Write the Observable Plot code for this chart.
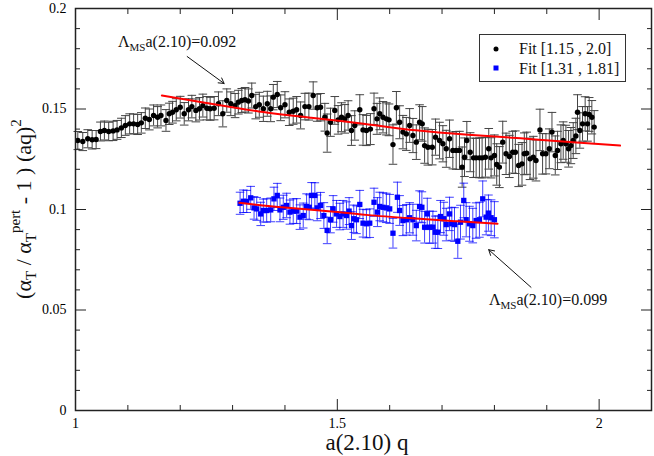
<!DOCTYPE html>
<html>
<head>
<meta charset="utf-8">
<script src="https://cdn.jsdelivr.net/npm/d3@7"></script>
<script src="https://cdn.jsdelivr.net/npm/@observablehq/plot@0.6"></script>
<style>
  html, body { margin: 0; padding: 0; background: white; }
  #chart { width: 654px; height: 456px; }
</style>
</head>
<body>
<div id="chart"></div>
<script>
// ---- data: fit [1.15, 2.0] (black dots) ----
const blackQ = [
  1.0044,1.0139,1.0234,1.0318,1.0394,1.0476,1.0552,1.0634,1.0718,1.0794,
  1.0876,1.0952,1.1034,1.1110,1.1187,1.1257,1.1333,1.1410,1.1491,1.1568,
  1.1632,1.1728,1.1790,1.1853,1.1924,1.2000,1.2076,1.2158,1.2222,1.2299,
  1.2368,1.2432,1.2509,1.2571,1.2648,1.2730,1.2813,1.2889,1.2966,1.3048,
  1.3110,1.3175,1.3238,1.3302,
  1.3366,1.3442,1.3510,1.3587,1.3663,1.3728,1.3777,1.3853,1.3918,1.4000,
  1.4082,1.4158,1.4223,1.4299,1.4381,1.4457,1.4539,1.4615,1.4680,1.4762,
  1.4806,1.4870,1.4952,1.5015,1.5080,1.5143,1.5206,1.5270,1.5333,1.5429,
  1.5491,1.5556,1.5632,1.5701,1.5758,1.5810,1.5872,1.5937,1.5987,1.6063,
  1.6128,1.6190,1.6253,1.6318,1.6381,1.6444,
  1.6508,1.6571,1.6622,1.6667,1.6730,1.6813,1.6876,1.6952,1.7016,1.7080,
  1.7143,1.7206,1.7270,1.7333,1.7384,1.7429,1.7473,1.7537,1.7600,1.7651,
  1.7714,1.7765,1.7829,1.7892,1.7937,1.8000,1.8044,1.8095,1.8159,1.8222,
  1.8286,1.8349,1.8400,1.8463,1.8527,1.8571,1.8616,1.8680,1.8743,1.8794,
  1.8870,1.8920,1.8984,1.9048,1.9099,1.9162,1.9206,1.9270,1.9314,1.9365,
  1.9416,1.9461,1.9505,1.9556,1.9587,1.9632,1.9683,1.9733,1.9778,1.9810,
  1.9861,1.9905
];
const blackVal = [
  .1343,.1338,.1352,.1347,.1348,.1388,.1393,.1388,.1391,.1396,
  .1406,.1418,.1426,.1426,.1423,.1431,.1454,.1448,.1468,.1459,
  .1468,.1443,.1476,.1484,.1496,.1509,.1476,.1496,.1512,.1493,
  .1501,.1517,.1504,.1501,.1504,.1526,.1476,.1542,.1526,.1517,
  .1534,.1542,.1546,.1540,
  .1567,.1512,.1521,.1501,.1526,.1501,.1559,.1572,.1506,.1521,
  .1484,.1489,.1496,.1468,.1512,.1512,.1567,.1506,.1509,.1459,
  .1380,.1434,.1493,.1446,.1459,.1451,.1468,.1393,.1418,.1496,
  .1396,.1393,.1400,.1501,.1451,.1476,.1459,.1451,.1446,.1323,
  .1506,.1434,.1385,.1376,.1418,.1368,
  .1335,.1434,.1426,.1318,.1310,.1310,.1360,.1343,.1327,.1302,
  .1352,.1294,.1294,.1294,.1211,.1260,.1343,.1285,.1257,.1257,
  .1257,.1257,.1260,.1302,.1257,.1269,.1224,.1211,.1335,.1277,
  .1264,.1285,.1285,.1219,.1227,.1277,.1280,.1252,.1260,.1244,
  .1396,.1277,.1277,.1302,.1385,.1269,.1294,.1327,.1343,.1327,
  .1302,.1318,.1343,.1366,.1484,.1393,.1426,.1476,.1426,.1473,
  .1459,.1410
];
const blackErr = [
  .0045,.0045,.0045,.0046,.0045,.0047,.0047,.0046,.0048,.0047,
  .0048,.0049,.0050,.0049,.0050,.0051,.0051,.0052,.0052,.0053,
  .0052,.0054,.0053,.0054,.0055,.0054,.0056,.0055,.0056,.0057,
  .0056,.0057,.0058,.0057,.0058,.0059,.0065,.0058,.0059,.0060,
  .0059,.0060,.0061,.0060,
  .0062,.0061,.0062,.0063,.0062,.0064,.0063,.0065,.0064,.0065,
  .0066,.0065,.0066,.0067,.0066,.0067,.0068,.0067,.0068,.0069,
  .0095,.0070,.0069,.0071,.0072,.0071,.0073,.0074,.0073,.0075,
  .0076,.0075,.0077,.0078,.0077,.0079,.0078,.0080,.0079,.0098,
  .0081,.0082,.0083,.0082,.0084,.0085,
  .0086,.0087,.0086,.0088,.0089,.0088,.0090,.0091,.0090,.0092,
  .0093,.0092,.0094,.0095,.0100,.0096,.0095,.0097,.0098,.0097,
  .0099,.0100,.0099,.0101,.0100,.0102,.0103,.0102,.0104,.0103,
  .0105,.0104,.0106,.0105,.0106,.0104,.0105,.0103,.0104,.0102,
  .0103,.0101,.0100,.0099,.0098,.0097,.0095,.0094,.0093,.0092,
  .0091,.0090,.0089,.0088,.0087,.0088,.0086,.0085,.0086,.0084,
  .0083,.0082
];

// ---- data: fit [1.31, 1.81] (blue squares) ----
const blueQ = [
  1.3143,1.3206,1.3270,1.3346,1.3410,1.3461,1.3537,1.3587,1.3651,1.3728,
  1.3790,1.3853,1.3905,1.3968,1.4032,1.4095,1.4158,1.4223,1.4286,1.4349,
  1.4413,1.4463,1.4509,1.4571,1.4615,1.4680,1.4743,1.4806,1.4870,1.4920,
  1.4985,1.5048,1.5110,1.5175,1.5225,1.5270,1.5314,1.5366,1.5429,1.5491,
  1.5556,
  1.5619,1.5701,1.5766,1.5810,1.5872,1.5937,1.6000,1.6063,1.6147,1.6190,
  1.6253,1.6318,1.6381,1.6444,1.6508,1.6571,1.6615,1.6667,1.6718,1.6762,
  1.6825,1.6870,1.6920,1.6971,1.7034,1.7080,1.7143,1.7187,1.7238,1.7301,
  1.7352,1.7415,1.7461,1.7524,1.7587,1.7651,1.7714,1.7777,1.7842,1.7886,
  1.7937,1.8000
];
const blueVal = [
  .1031,.1041,.1040,.1058,.1008,.1003,.0978,.0995,.0995,.0998,
  .1053,.1070,.0998,.1011,.1020,.0987,.0992,.0992,.0962,.0970,
  .1015,.1011,.1070,.1070,.1008,.1020,.0970,.0896,.0949,.1003,
  .0978,.0965,.0978,.0970,.0992,.0920,.0954,.0949,.1025,.0932,
  .0929,
  .0932,.1036,.0987,.1015,.1011,.1008,.1003,.0882,.1061,.0995,
  .0945,.0949,.0959,.0949,.0920,.1015,.1011,.0912,.0978,.0912,
  .0912,.0887,.0887,.0965,.0954,.0925,.0978,.0929,.0925,.0842,
  .0937,.1045,.0949,.0929,.0920,.0945,.0949,.1053,.0962,.0982,
  .0959,.0949
];
const blueErr = [
  .0055,.0056,.0055,.0057,.0056,.0057,.0058,.0057,.0058,.0059,
  .0058,.0060,.0059,.0060,.0061,.0060,.0061,.0062,.0061,.0062,
  .0063,.0062,.0064,.0063,.0064,.0065,.0064,.0066,.0065,.0066,
  .0067,.0066,.0067,.0068,.0067,.0069,.0068,.0069,.0070,.0069,
  .0070,
  .0071,.0070,.0072,.0071,.0072,.0073,.0072,.0074,.0075,.0074,
  .0075,.0076,.0075,.0077,.0076,.0078,.0077,.0079,.0078,.0080,
  .0079,.0080,.0081,.0080,.0082,.0081,.0083,.0082,.0084,.0085,
  .0084,.0086,.0085,.0087,.0086,.0088,.0087,.0089,.0088,.0090,
  .0089,.0090
];

// ---- fit curves (red) ----
const fitBlackQ = [1.165, 1.25, 1.35, 1.45, 1.55, 1.65, 1.75, 1.85, 1.95, 2.04];
const fitBlackVal = [0.1567, 0.1530, 0.1488, 0.1457, 0.1427, 0.1394, 0.1372, 0.1354, 0.1335, 0.1318];
const fitBlueQ = [1.313, 1.40, 1.50, 1.56, 1.65, 1.73, 1.806];
const fitBlueVal = [0.1033, 0.1010, 0.0988, 0.0972, 0.0955, 0.0941, 0.0929];

// ---- ticks ----
const xMajor = [1, 1.5, 2];
const xMinor = [1.1, 1.2, 1.3, 1.4, 1.6, 1.7, 1.8, 1.9, 2.1];
const yMajor = [0, 0.05, 0.1, 0.15, 0.2];
const yMinor = [0.01,0.02,0.03,0.04,0.06,0.07,0.08,0.09,0.11,0.12,0.13,0.14,0.16,0.17,0.18,0.19];

// ---- annotations ----
const annotValues = ["0.092", "0.099"];
const annotQ = [1.082, 1.7905];
const annotVal = [0.1806, 0.0522];
const arrowQ1 = [1.2133, 1.8699];
const arrowV1 = [0.1761, 0.0613];
const arrowQ2 = [1.2838, 1.7891];
const arrowV2 = [0.1627, 0.0800];

const legendLabels = ["Fit [1.15 , 2.0]", "Fit [1.31 , 1.81]"];

const black = blackQ.map((q, i) => ({q, v: blackVal[i], e: blackErr[i]}));
const blue = blueQ.map((q, i) => ({q, v: blueVal[i], e: blueErr[i]}));
const fitB = fitBlackQ.map((q, i) => ({q, v: fitBlackVal[i]}));
const fitS = fitBlueQ.map((q, i) => ({q, v: fitBlueVal[i]}));
const arrows = arrowQ1.map((q, i) => ({x1: q, y1: arrowV1[i], x2: arrowQ2[i], y2: arrowV2[i]}));

const cap = {
  draw(context, size) {
    const w = Math.sqrt(size / Math.PI);
    context.moveTo(-w, 0);
    context.lineTo(w, 0);
  }
};

const FONT = "'Liberation Serif', serif";
const blueColor = "#0000ff";

const plot = Plot.plot({
  width: 654,
  height: 456,
  marginLeft: 75,
  marginRight: 3,
  marginTop: 8,
  marginBottom: 46,
  style: {fontFamily: FONT, fontSize: "14px", color: "black", background: "white"},
  x: {domain: [1, 2.1], axis: null},
  y: {domain: [0, 0.2], axis: null},
  marks: [
    // error bars
    Plot.ruleX(black, {x: "q", y1: d => d.v - d.e, y2: d => d.v + d.e, stroke: "#444", strokeWidth: 1}),
    Plot.dot(black, {x: "q", y: d => d.v - d.e, symbol: cap, r: 4.3, stroke: "#444", fill: "none", strokeWidth: 1}),
    Plot.dot(black, {x: "q", y: d => d.v + d.e, symbol: cap, r: 4.3, stroke: "#444", fill: "none", strokeWidth: 1}),
    Plot.ruleX(blue, {x: "q", y1: d => d.v - d.e, y2: d => d.v + d.e, stroke: blueColor, strokeOpacity: 0.75, strokeWidth: 1}),
    Plot.dot(blue, {x: "q", y: d => d.v - d.e, symbol: cap, r: 4.3, stroke: blueColor, strokeOpacity: 0.75, fill: "none", strokeWidth: 1}),
    Plot.dot(blue, {x: "q", y: d => d.v + d.e, symbol: cap, r: 4.3, stroke: blueColor, strokeOpacity: 0.75, fill: "none", strokeWidth: 1}),
    // points
    Plot.dot(black, {x: "q", y: "v", r: 2.7, fill: "black", stroke: "none"}),
    Plot.dot(blue, {x: "q", y: "v", symbol: "square", r: 3.0, fill: blueColor, stroke: "none"}),
    // fits
    Plot.line(fitB, {x: "q", y: "v", stroke: "#ff0000", strokeWidth: 2, curve: "natural"}),
    Plot.line(fitS, {x: "q", y: "v", stroke: "#ff0000", strokeWidth: 2, curve: "natural"}),
    // annotation arrows
    Plot.arrow(arrows, {x1: "x1", y1: "y1", x2: "x2", y2: "y2", stroke: "#111", strokeWidth: 1, headLength: 9}),
    // frame
    Plot.frame({stroke: "#222", strokeWidth: 1.5}),
    // major/minor ticks (inward) on all 4 sides
    Plot.axisX(xMajor, {anchor: "bottom", tickSize: -11, tickFormat: () => "", label: null, stroke: "#222"}),
    Plot.axisX(xMinor, {anchor: "bottom", tickSize: -5, tickFormat: () => "", label: null, stroke: "#222"}),
    Plot.axisX(xMajor, {anchor: "top", tickSize: -11, tickFormat: () => "", label: null, stroke: "#222"}),
    Plot.axisX(xMinor, {anchor: "top", tickSize: -5, tickFormat: () => "", label: null, stroke: "#222"}),
    Plot.axisY(yMajor, {anchor: "left", tickSize: -11, tickFormat: () => "", label: null, stroke: "#222"}),
    Plot.axisY(yMinor, {anchor: "left", tickSize: -5, tickFormat: () => "", label: null, stroke: "#222"}),
    Plot.axisY(yMajor, {anchor: "right", tickSize: -11, tickFormat: () => "", label: null, stroke: "#222"}),
    Plot.axisY(yMinor, {anchor: "right", tickSize: -5, tickFormat: () => "", label: null, stroke: "#222"}),
    // tick labels
    Plot.axisX(xMajor, {anchor: "bottom", tickSize: 0, tickPadding: 8, tickFormat: d => String(d), label: null, fontSize: 14, fill: "black"}),
    Plot.axisY(yMajor, {anchor: "left", tickSize: 0, tickPadding: 9, tickFormat: d => String(d), label: null, fontSize: 14, fill: "black"})
  ]
});

document.getElementById("chart").appendChild(plot);

const svg = d3.select(plot);
const sx = plot.scale("x"), sy = plot.scale("y");

function addText(sel) {
  return sel.append("text")
    .attr("font-family", FONT)
    .style("font-family", FONT)
    .attr("fill", "#111");
}

// annotation texts with subscript
annotValues.forEach((val, i) => {
  const t = addText(svg)
    .attr("x", sx.apply(annotQ[i]))
    .attr("y", sy.apply(annotVal[i]))
    .attr("text-anchor", "start")
    .attr("font-size", 16);
  t.append("tspan").text("Λ");
  t.append("tspan").attr("font-size", 11).attr("dy", 4).text("MS");
  t.append("tspan").attr("dy", -4).text("a(2.10)=" + val);
});

// legend
const lg = svg.append("g");
lg.append("rect").attr("x", 479.5).attr("y", 34.5).attr("width", 146).attr("height", 47)
  .attr("fill", "white").attr("stroke", "#333").attr("stroke-width", 1);
lg.append("circle").attr("cx", 496).attr("cy", 49).attr("r", 2.5).attr("fill", "black");
lg.append("rect").attr("x", 493.5).attr("y", 65.5).attr("width", 5).attr("height", 5).attr("fill", blueColor);
legendLabels.forEach((lab, i) => {
  addText(lg).attr("x", 519).attr("y", 54 + i * 20).attr("text-anchor", "start")
    .attr("font-size", 16).text(lab);
});

// x label
addText(svg).attr("x", 367).attr("y", 450).attr("text-anchor", "middle")
  .attr("font-size", 23).text("a(2.10) q");

// y label
const yl = addText(svg)
  .attr("transform", "translate(31,209) rotate(-90)")
  .attr("text-anchor", "middle")
  .attr("font-size", 22);
yl.append("tspan").text("(α");
yl.append("tspan").attr("font-size", 15).attr("dy", 5).text("T");
yl.append("tspan").attr("dy", -5).text(" / α");
yl.append("tspan").attr("font-size", 15).attr("dy", 5).text("T");
yl.append("tspan").attr("font-size", 15).attr("dy", -16).text("pert");
yl.append("tspan").attr("dy", 11).text(" - 1 ) (aq)");
yl.append("tspan").attr("font-size", 15).attr("dy", -10).text("2");
</script>
</body>
</html>
